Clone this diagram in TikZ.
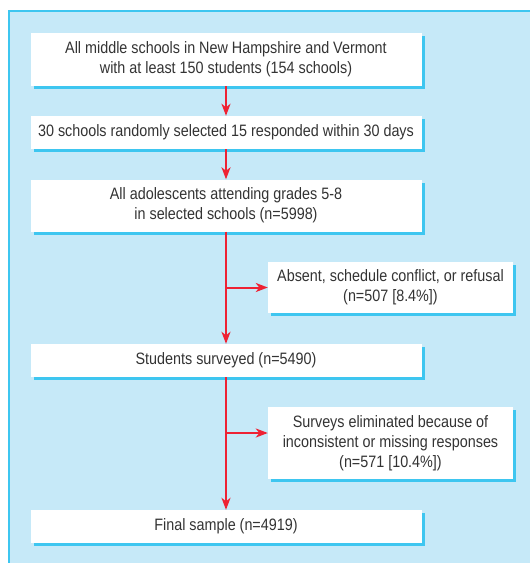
\documentclass[tikz,border=0pt]{standalone}
\usepackage{fontspec}
\setmainfont[FakeStretch=0.87]{Liberation Sans}
\usetikzlibrary{arrows.meta,shadows}
\definecolor{bgblue}{HTML}{C6E9F8}
\definecolor{edgecyan}{HTML}{3EC6F0}
\definecolor{txt}{HTML}{333333}
\definecolor{arrred}{HTML}{EE2233}
\tikzset{
  box/.style={fill=white, draw=none, align=center, text=txt, inner sep=0pt,
    font=\fontsize{16.5}{20}\selectfont,
    drop shadow={shadow xshift=3pt, shadow yshift=-3pt, fill=edgecyan, opacity=1}},
  flow/.style={draw=arrred, line width=2pt, -{Stealth[length=12pt,width=9pt,inset=3.5pt]}}
}
\begin{document}
\begin{tikzpicture}[x=1pt,y=-1pt]
\useasboundingbox (0,0) rectangle (530,563);
\fill[bgblue] (9,11) rectangle (532,565);
\draw[edgecyan, line width=1.8pt] (9,565) -- (9,11) -- (532,11);
\node[box, minimum width=391pt, minimum height=53pt] (b1) at (226,59.5)
  {All middle schools in New Hampshire and Vermont\\with at least 150 students (154 schools)};
\node[box, minimum width=391pt, minimum height=33pt] (b2) at (226,132.5)
  {30 schools randomly selected 15 responded within 30 days};
\node[box, minimum width=391pt, minimum height=52pt] (b3) at (226,205.5)
  {All adolescents attending grades 5-8\\in selected schools (n=5998)};
\node[box, minimum width=245pt, minimum height=51pt] (b4) at (390.5,287.5)
  {Absent, schedule conflict, or refusal\\(n=507 [8.4\%])};
\node[box, minimum width=391pt, minimum height=33pt] (b5) at (226,360.5)
  {Students surveyed (n=5490)};
\node[box, minimum width=245pt, minimum height=72pt] (b6) at (390.5,443)
  {Surveys eliminated because of\\inconsistent or missing responses\\(n=571 [10.4\%])};
\node[box, minimum width=391pt, minimum height=33pt] (b7) at (226,526.5)
  {Final sample (n=4919)};
\coordinate (j1) at (226,287.5);
\coordinate (j2) at (226,433);
\draw[flow] (b1) -- (b2);
\draw[flow] (b2) -- (b3);
\draw[flow] (b3) -- (b5);
\draw[flow] (j1) -- (b4);
\draw[flow] (b5) -- (b7);
\draw[flow] (j2) -- (j2 -| b6.west);
\end{tikzpicture}
\end{document}
